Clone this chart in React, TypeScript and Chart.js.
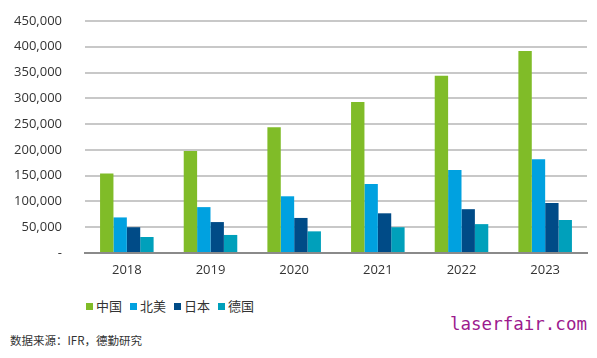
import React, { useEffect, useRef } from "react";
import { Chart, registerables } from "chart.js";

Chart.register(...registerables);

const categories = ["2018", "2019", "2020", "2021", "2022", "2023"];
const seriesNames = ["中国", "北美", "日本", "德国"];
const chinaValues = [154000, 198000, 244000, 293000, 344000, 392000];
const northAmericaValues = [69000, 89000, 110000, 134000, 161000, 182000];
const japanValues = [50000, 60000, 68000, 77000, 85000, 97000];
const germanyValues = [31000, 35000, 42000, 50000, 56000, 64000];
const seriesColors = ["#80bc28", "#00a1e0", "#004b87", "#00a0bb"];
const yTicks = [0, 50000, 100000, 150000, 200000, 250000, 300000, 350000, 400000, 450000];

const FONT = "'Open Sans', 'Noto Sans', sans-serif";

export default function App() {
  const ref = useRef<HTMLCanvasElement | null>(null);

  useEffect(() => {
    if (!ref.current) return;
    const values = [chinaValues, northAmericaValues, japanValues, germanyValues];
    const chart = new Chart(ref.current, {
      type: "bar",
      data: {
        labels: categories,
        datasets: seriesNames.map((name, i) => ({
          label: name,
          data: values[i],
          backgroundColor: seriesColors[i],
          borderWidth: 0,
          categoryPercentage: 0.64,
          barPercentage: 1,
        })),
      },
      options: {
        animation: false,
        responsive: false,
        maintainAspectRatio: false,
        layout: { padding: { top: 21, right: 10, left: 0, bottom: 0 } },
        plugins: {
          legend: { display: false },
          tooltip: { enabled: false },
        },
        scales: {
          x: {
            grid: { display: false, drawTicks: false },
            border: { display: true, color: "#8a8a8a", width: 2 },
            ticks: {
              color: "#333333",
              font: { family: FONT, size: 13 },
              padding: 9,
            },
            afterFit: (s: any) => {
              s.height = 37;
            },
          },
          y: {
            min: 0,
            max: 450000,
            afterBuildTicks: (s: any) => {
              s.ticks = yTicks.map((v) => ({ value: v }));
            },
            grid: { color: "#c8c8c8", lineWidth: 2, drawTicks: false },
            border: { display: false },
            ticks: {
              color: "#333333",
              font: { family: FONT, size: 13 },
              padding: 23,
              callback: (v: any) => (Number(v) === 0 ? "-" : Number(v).toLocaleString("en-US")),
            },
            afterFit: (s: any) => {
              s.width = 85;
              s.paddingTop = 0;
              s.paddingBottom = 0;
            },
          },
        },
      },
    });
    return () => chart.destroy();
  }, []);

  return (
    <div style={{ position: "fixed", left: 0, top: 0, width: 597, height: 358, background: "#fff", overflow: "hidden" }}>
      <canvas ref={ref} width={597} height={290} style={{ position: "absolute", left: 0, top: 0, width: 597, height: 290 }} />
      <div
        style={{
          position: "absolute",
          left: 86,
          top: 296,
          height: 20,
          display: "flex",
          alignItems: "center",
          fontFamily: "'Noto Sans CJK SC', sans-serif",
          fontSize: 13,
          color: "#333333",
          lineHeight: "20px",
        }}
      >
        {seriesNames.map((n, i) => (
          <div key={n} style={{ display: "flex", alignItems: "center", marginRight: 8 }}>
            <span style={{ display: "inline-block", width: 7, height: 7, background: seriesColors[i], marginRight: 3 }} />
            <span>{n}</span>
          </div>
        ))}
      </div>
      <div
        style={{
          position: "absolute",
          left: 10,
          top: 332,
          fontFamily: "'Noto Sans CJK SC', sans-serif",
          fontSize: 11.5,
          color: "#333333",
          lineHeight: "16px",
          whiteSpace: "nowrap",
        }}
      >
        数据来源：IFR，德勤研究
      </div>
      <div
        style={{
          position: "absolute",
          left: 450,
          top: 313,
          fontFamily: "'DejaVu Sans Mono', monospace",
          fontSize: 17.5,
          color: "#9c1a8e",
          lineHeight: "22px",
          whiteSpace: "nowrap",
        }}
      >
        laserfair.com
      </div>
    </div>
  );
}
